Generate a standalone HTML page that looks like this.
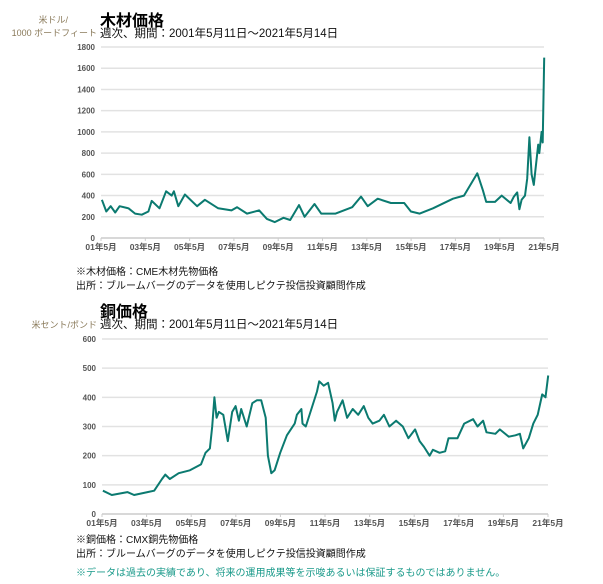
<!DOCTYPE html>
<html><head><meta charset="utf-8">
<style>
body{margin:0;width:603px;height:584px;background:#fff;font-family:"Liberation Sans","Noto Sans CJK JP",sans-serif;overflow:hidden;position:relative}
.t{position:absolute;white-space:nowrap}
.title{font-size:16px;font-weight:bold;color:#000}
.sub{font-size:11.5px;color:#111}
.unit{font-size:9px;color:#8a7a5a;text-align:right}
.note{font-size:10px;color:#111}
.disc{font-size:10px;color:#1a9a8a}
svg{position:absolute;left:0;top:0}
</style></head><body>
<div class="t unit" style="right:535px;top:13px">米ドル/</div>
<div class="t unit" style="right:506px;top:26px">1000 ボードフィート</div>
<div class="t title" style="left:100px;top:7px">木材価格</div>
<div class="t sub" style="left:100px;top:25px">週次、期間：2001年5月11日～2021年5月14日</div>
<div class="t note" style="left:76px;top:263px">※木材価格：CME木材先物価格</div>
<div class="t note" style="left:76px;top:277px">出所：ブルームバーグのデータを使用しピクテ投信投資顧問作成</div>
<div class="t title" style="left:100px;top:298px">銅価格</div>
<div class="t unit" style="right:506px;top:318px">米セント/ポンド</div>
<div class="t sub" style="left:100px;top:316px">週次、期間：2001年5月11日～2021年5月14日</div>
<div class="t note" style="left:76px;top:531px">※銅価格：CMX銅先物価格</div>
<div class="t note" style="left:76px;top:545px">出所：ブルームバーグのデータを使用しピクテ投信投資顧問作成</div>
<div class="t disc" style="left:76px;top:564px">※データは過去の実績であり、将来の運用成果等を示唆あるいは保証するものではありません。</div>
<svg id="svg" width="603" height="584"></svg>
<script>
const xTickLabels=["01年5月","03年5月","05年5月","07年5月","09年5月","11年5月","13年5月","15年5月","17年5月","19年5月","21年5月"];
const xTickYears=[2001.36,2003.36,2005.36,2007.36,2009.36,2011.36,2013.36,2015.36,2017.36,2019.36,2021.36];
const lumberTicks=[0,200,400,600,800,1000,1200,1400,1600,1800];
const lumberYears=[2001.4,2001.6,2001.8,2002.0,2002.2,2002.6,2002.9,2003.2,2003.5,2003.65,2004.0,2004.3,2004.55,2004.65,2004.85,2005.15,2005.7,2006.05,2006.65,2007.25,2007.5,2007.95,2008.5,2008.85,2009.2,2009.6,2009.9,2010.3,2010.55,2011.0,2011.3,2011.95,2012.7,2013.1,2013.4,2013.85,2014.45,2015.05,2015.35,2015.75,2016.35,2017.25,2017.75,2018.35,2018.6,2018.75,2019.15,2019.45,2019.85,2020.0,2020.15,2020.25,2020.35,2020.5,2020.6,2020.7,2020.8,2020.9,2021.1,2021.15,2021.25,2021.3,2021.37];
const lumberValues=[360,250,300,240,300,280,230,220,250,350,280,440,400,440,300,410,300,360,280,260,290,230,260,180,150,190,170,310,200,320,230,230,290,390,300,370,330,330,250,230,280,370,400,610,450,340,340,400,330,390,430,270,360,400,560,950,600,500,880,800,1000,900,1700];
const copperTicks=[0,100,200,300,400,500,600];
const copperYears=[2001.4,2001.8,2002.5,2002.8,2003.4,2003.7,2004.05,2004.2,2004.4,2004.8,2005.3,2005.8,2006.0,2006.2,2006.3,2006.4,2006.5,2006.6,2006.8,2007.0,2007.2,2007.35,2007.5,2007.6,2007.85,2008.1,2008.3,2008.5,2008.7,2008.8,2008.95,2009.1,2009.35,2009.65,2010.0,2010.1,2010.3,2010.35,2010.5,2010.75,2011.0,2011.1,2011.3,2011.5,2011.7,2011.8,2011.9,2012.15,2012.35,2012.6,2012.85,2013.1,2013.3,2013.5,2013.8,2014.0,2014.25,2014.55,2014.85,2015.1,2015.4,2015.6,2015.8,2016.05,2016.2,2016.5,2016.75,2016.9,2017.3,2017.6,2018.0,2018.2,2018.45,2018.6,2019.0,2019.2,2019.6,2019.9,2020.1,2020.25,2020.5,2020.7,2020.9,2021.1,2021.25,2021.37];
const copperValues=[80,65,75,65,75,80,120,135,120,140,150,170,210,225,300,400,330,350,340,250,350,370,320,360,300,380,390,390,330,200,140,150,210,270,310,340,360,310,300,360,420,455,440,450,380,320,350,390,330,360,340,370,330,310,320,340,300,320,300,260,290,250,230,200,220,210,215,260,260,310,325,300,320,280,275,290,265,270,275,225,260,310,340,410,400,475];

const svg=document.getElementById('svg');
const NS='http://www.w3.org/2000/svg';
function mk(tag,attrs){const e=document.createElementNS(NS,tag);for(const k in attrs)e.setAttribute(k,attrs[k]);svg.appendChild(e);return e;}
function chart(prefix,x0,x1,y0,y1,ymax,ticks,years,vals){
  const sx=y=>x0+(y-2001.36)/20*(x1-x0);
  const sy=v=>y0-v/ymax*(y0-y1);
  ticks.forEach(t=>{
    const l=mk('line',{x1:x0,x2:x1,y1:sy(t),y2:sy(t),stroke:t===0?'#ccc':'#e2e2e2','stroke-width':1.5});
    
    
    const tx=mk('text',{x:x0-6,y:sy(t)+3,'text-anchor':'end','font-size':8,'font-weight':'bold',fill:'#555','font-family':'Liberation Sans,sans-serif'});
    tx.textContent=t;
    
    
  });
  xTickYears.forEach((yr,i)=>{
    const x=sx(yr);
    const tk=mk('line',{x1:x,x2:x,y1:y0,y2:y0+3,stroke:'#ccc','stroke-width':1});
    
    
    const tx=mk('text',{x:x,y:y0+12,'text-anchor':'middle','font-size':8.5,'font-weight':'bold',fill:'#555','font-family':'Liberation Sans,Noto Sans CJK JP,sans-serif'});
    tx.textContent=xTickLabels[i];
    
    
  });
  const d=years.map((y,i)=>(i?'L':'M')+sx(y).toFixed(1)+','+sy(vals[i]).toFixed(1)).join('');
  const p=mk('path',{d:d,fill:'none',stroke:'#0b7a70','stroke-width':2,'stroke-linejoin':'round'});
  
  
}
chart('lumber',101,544,238,47,1800,lumberTicks,lumberYears,lumberValues);
chart('copper',102,548,514,339,600,copperTicks,copperYears,copperValues);
</script>
</body></html>
